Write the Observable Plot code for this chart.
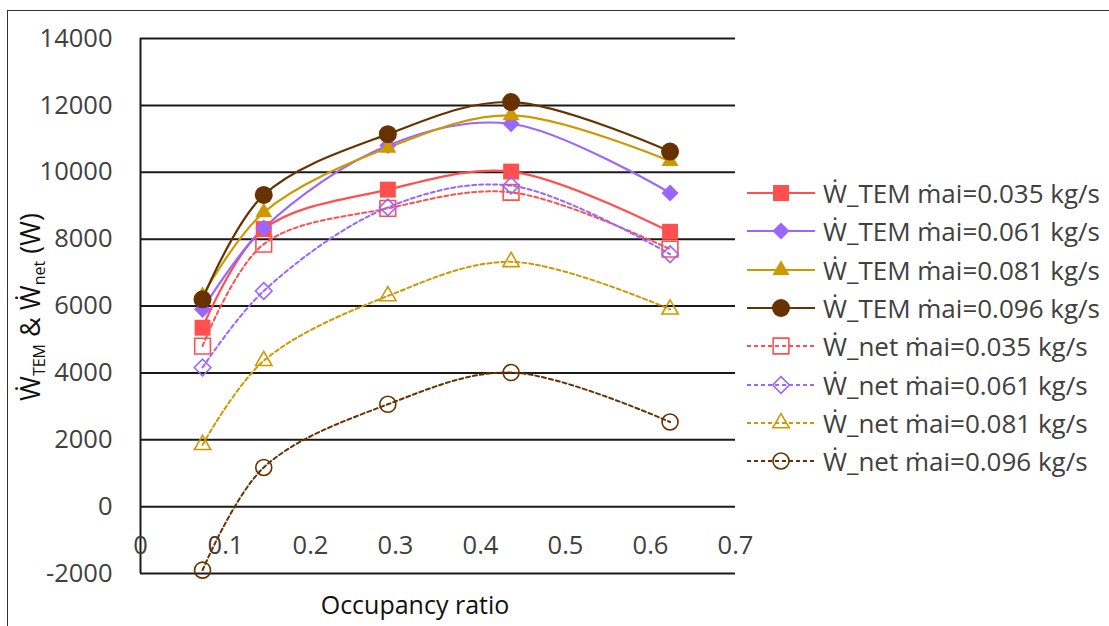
<!DOCTYPE html>
<html><head><meta charset="utf-8">
<script src="https://cdn.jsdelivr.net/npm/d3@7"></script>
<script src="https://cdn.jsdelivr.net/npm/@observablehq/plot@0.6"></script>
<style>
body{margin:0;background:#fff;}
#wrap{position:relative;width:1109px;height:626px;overflow:hidden;background:#fff;font-family:"Open Sans",sans-serif;}
#frame{position:absolute;left:7px;top:10px;width:1300px;height:800px;border-top:1.5px solid #333;border-left:1.5px solid #333;}
#chart{position:absolute;left:0;top:0;}
#ylab{position:absolute;left:30px;top:307px;transform:translate(-50%,-50%) rotate(-90deg);white-space:nowrap;font-size:27px;color:#111;}
#ylab sub{font-size:16px;vertical-align:-5px;}
#xlab{position:absolute;left:415px;top:604px;transform:translate(-50%,-50%);white-space:nowrap;font-size:25px;color:#111;}
#legend{position:absolute;left:747px;top:0;}
.lrow{position:absolute;left:0;height:38px;display:flex;align-items:center;white-space:nowrap;font-size:26px;color:#404040;}
.lrow svg{margin-right:6px;}
</style></head>
<body><div id="wrap"><div id="frame"></div><div id="chart"></div><div id="ylab">Ẇ<sub>TEM</sub> &amp; Ẇ<sub>net</sub> (W)</div><div id="xlab">Occupancy ratio</div><div id="legend"></div></div>
<script>
// ---- data ----
const occupancy = [0.073, 0.145, 0.291, 0.436, 0.623];
const temMai035 = [5350, 8300, 9480, 10020, 8220];
const temMai061 = [5900, 8330, 10800, 11450, 9380];
const temMai081 = [6300, 8800, 10730, 11700, 10330];
const temMai096 = [6200, 9320, 11140, 12100, 10620];
const netMai035 = [4800, 7850, 8920, 9400, 7700];
const netMai061 = [4160, 6450, 8950, 9600, 7550];
const netMai081 = [1850, 4360, 6300, 7320, 5900];
const netMai096 = [-1900, 1170, 3060, 4010, 2530];
const seriesNames = [
  "Ẇ_TEM ṁai=0.035 kg/s","Ẇ_TEM ṁai=0.061 kg/s","Ẇ_TEM ṁai=0.081 kg/s","Ẇ_TEM ṁai=0.096 kg/s",
  "Ẇ_net ṁai=0.035 kg/s","Ẇ_net ṁai=0.061 kg/s","Ẇ_net ṁai=0.081 kg/s","Ẇ_net ṁai=0.096 kg/s"];
const seriesValues = [temMai035, temMai061, temMai081, temMai096, netMai035, netMai061, netMai081, netMai096];
const yTicks = [-2000, 0, 2000, 4000, 6000, 8000, 10000, 12000, 14000];
const xTicks = [0, 0.1, 0.2, 0.3, 0.4, 0.5, 0.6, 0.7];

// ---- styles ----
const colors = ["#FF5050", "#9966FF", "#CC9900", "#663300"];
const styles = [
  {symbol:"square", r:9, filled:true},
  {symbol:"diamond2", r:7.7, filled:true},
  {symbol:"triangle", r:6.3, filled:true},
  {symbol:"circle", r:9, filled:true},
  {symbol:"square2", r:10, filled:false},
  {symbol:"diamond2", r:7.5, filled:false},
  {symbol:"triangle2", r:7.8, filled:false},
  {symbol:"circle", r:8, filled:false}
];

const rows = seriesNames.flatMap((name, i) => occupancy.map((x, j) => ({series: name, idx: i, x, y: seriesValues[i][j]})));

const marks = [
  Plot.gridY(yTicks, {stroke:"#1a1a1a", strokeOpacity:1, strokeWidth:2}),
  Plot.ruleX([0], {stroke:"#1a1a1a", strokeWidth:2}),
  Plot.axisY(yTicks, {anchor:"left", tickSize:0, tickPadding:28, fontSize:25.5, fill:"#404040", label:null, tickFormat:d=>String(d)}),
  Plot.axisX(xTicks, {anchor:"bottom", tickSize:0, tickPadding:0, dy:-38, fontSize:25.5, fill:"#404040", label:null, tickFormat:d=>String(d)})
];
seriesNames.forEach((name, i) => {
  const data = rows.filter(d => d.idx === i);
  const c = colors[i % 4];
  const dashed = i >= 4;
  marks.push(Plot.line(data, {x:"x", y:"y", stroke:c, strokeWidth: dashed ? 2 : 2.2, strokeDasharray: dashed ? "4,3" : null, curve:"catmull-rom"}));
});
seriesNames.forEach((name, i) => {
  const data = rows.filter(d => d.idx === i);
  const c = colors[i % 4];
  const s = styles[i];
  marks.push(Plot.dot(data, {x:"x", y:"y", symbol:s.symbol, r:s.r, fill: s.filled ? c : "none", stroke: s.filled ? "none" : c, strokeWidth:1.6}));
});

const chart = Plot.plot({
  width:1109, height:626,
  marginLeft:140, marginRight:374, marginTop:38, marginBottom:53,
  x:{domain:[0,0.7]},
  y:{domain:[-2000,14000]},
  style:{fontFamily:'"Open Sans",sans-serif', background:"transparent", overflow:"visible"},
  marks
});
document.getElementById("chart").appendChild(chart);

// ---- legend ----
const symMap = {square:d3.symbolSquare, diamond2:d3.symbolDiamond2, triangle:d3.symbolTriangle, circle:d3.symbolCircle, square2:d3.symbolSquare2, triangle2:d3.symbolTriangle2};
const legend = document.getElementById("legend");
seriesNames.forEach((name, i) => {
  const c = colors[i % 4];
  const s = styles[i];
  const dashed = i >= 4;
  const row = document.createElement("div");
  row.className = "lrow";
  row.style.top = (174 + i * 38.35) + "px";
  const svg = d3.create("svg").attr("width", 70).attr("height", 38);
  svg.append("line").attr("x1", 0).attr("x2", 68).attr("y1", 19).attr("y2", 19)
    .attr("stroke", c).attr("stroke-width", dashed ? 2 : 2.2).attr("stroke-dasharray", dashed ? "4,3" : null);
  svg.append("path").attr("transform", "translate(34,19)")
    .attr("d", d3.symbol(symMap[s.symbol], Math.PI * s.r * s.r)())
    .attr("fill", s.filled ? c : "none").attr("stroke", s.filled ? "none" : c).attr("stroke-width", 1.6);
  row.appendChild(svg.node());
  const span = document.createElement("span");
  span.textContent = name;
  row.appendChild(span);
  legend.appendChild(row);
});
</script></body></html>
